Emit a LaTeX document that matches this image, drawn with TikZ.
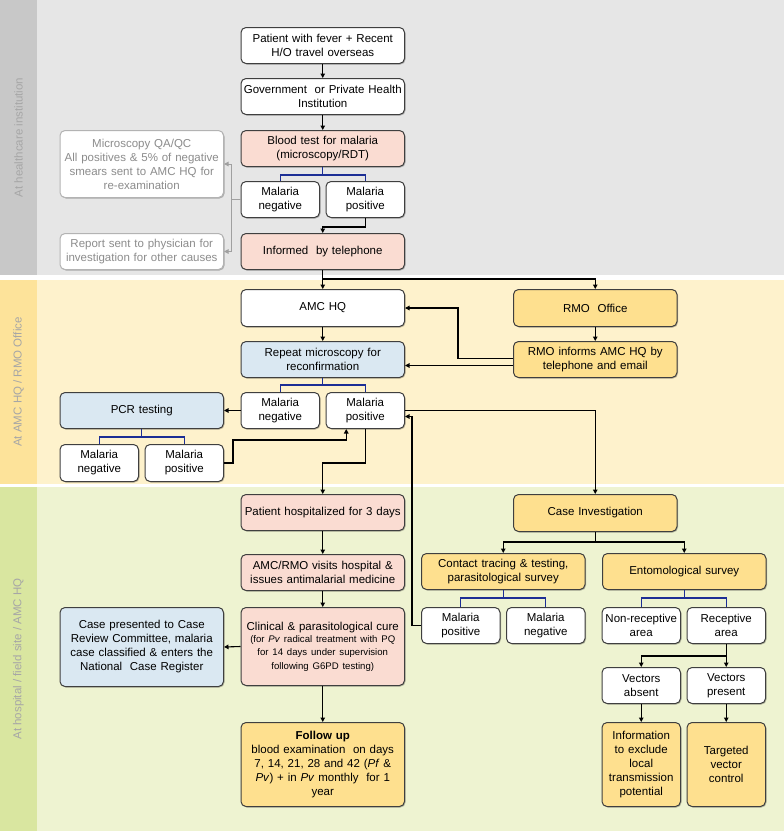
\documentclass[tikz,border=0pt]{standalone}
\usepackage{fontspec}
\setmainfont{Liberation Sans}
\usetikzlibrary{arrows.meta,shadows}
\definecolor{bandgray}{HTML}{E6E6E6}
\definecolor{labgray}{HTML}{C8C8C8}
\definecolor{bandyel}{HTML}{FEF2CC}
\definecolor{labyel}{HTML}{FDE39A}
\definecolor{bandgrn}{HTML}{EEF3D1}
\definecolor{labgrn}{HTML}{D9E6A0}
\definecolor{pinkbox}{HTML}{FADCD2}
\definecolor{bluebox}{HTML}{DAE8F2}
\definecolor{yelbox}{HTML}{FEE08F}
\definecolor{boxline}{HTML}{3F3F3F}
\definecolor{brkblue}{HTML}{1C2E95}
\definecolor{garrow}{HTML}{A0A0A0}
\definecolor{gtext}{HTML}{8C8C8C}
\definecolor{sidetext}{HTML}{A6A6A6}
\begin{document}
\begin{tikzpicture}[x=1pt,y=-1pt,
  box/.style={draw=boxline, line width=1pt, rounded corners=5pt, align=center,
    inner sep=1pt, anchor=north west, fill=white,
    font=\fontsize{11.5}{14}\selectfont,
    drop shadow={shadow xshift=1pt, shadow yshift=-1pt, opacity=0.25, fill=black}},
  gbox/.style={box, draw=garrow!80, text=gtext},
  wide/.style={minimum width=163.5pt, text width=158pt},
  narrow/.style={minimum width=78.5pt, text width=76pt},
  hgt/.style={minimum height=#1pt},
  pink/.style={fill=pinkbox},
  blue/.style={fill=bluebox},
  yel/.style={fill=yelbox},
  arr/.style={draw=black, line width=1.1pt, -{Triangle[length=4.5pt,width=4.5pt]}},
  brk/.style={draw=brkblue, line width=1.1pt},
  garr/.style={draw=garrow, line width=1pt, -{Triangle[length=4.5pt,width=4.5pt]}},
  sidelab/.style={rotate=90, text=sidetext, font=\fontsize{11.5}{14}\selectfont}
]
\useasboundingbox (0,0) rectangle (784,831);
\fill[white] (0,0) rectangle (784,831);
% bands
\fill[bandgray] (0,0) rectangle (784,275);
\fill[labgray] (0,0) rectangle (37,275);
\fill[bandyel] (0,280) rectangle (784,484);
\fill[labyel] (0,280) rectangle (37,484);
\fill[bandgrn] (0,487) rectangle (784,831);
\fill[labgrn] (0,487) rectangle (37,831);
\node[sidelab] (s1) at (18.5,137.5) {At healthcare institution};
\node[sidelab] (s2) at (18.5,382) {At AMC HQ / RMO Office};
\node[sidelab] (s3) at (18.5,659) {At hospital / field site / AMC HQ};

% top band
\node[box,wide,hgt=36] (p1) at (240.5,27) {Patient with fever + Recent\\H/O travel overseas};
\node[box,wide,hgt=36] (p2) at (240.5,78) {Government~ or Private Health\\Institution};
\node[box,wide,hgt=36,pink] (bt) at (240.5,130) {Blood test for malaria\\(microscopy/RDT)};
\node[box,narrow,hgt=36] (n1) at (240.5,181) {Malaria\\negative};
\node[box,narrow,hgt=36] (pos1) at (325.5,181) {Malaria\\positive};
\node[box,wide,hgt=36,pink] (tel) at (240.5,233) {Informed~ by telephone};
\node[gbox,wide,hgt=67] (qa) at (59.5,130) {Microscopy QA/QC\\All positives \& 5\% of negative\\smears sent to AMC HQ for\\re-examination};
\node[gbox,wide,hgt=36] (rep) at (59.5,233) {Report sent to physician for\\investigation for other causes};

% middle band
\node[box,wide,hgt=37] (amc) at (240.5,289) {AMC HQ};
\node[box,wide,hgt=37,yel] (rmo) at (513,289) {RMO~ Office};
\node[box,wide,hgt=36,blue] (rpt) at (240.5,341) {Repeat microscopy for\\reconfirmation};
\node[box,wide,hgt=36,yel] (rinf) at (513,341) {RMO informs AMC HQ by\\telephone and email};
\node[box,narrow,hgt=36] (n2) at (240.5,392) {Malaria\\negative};
\node[box,narrow,hgt=36] (pos2) at (325.5,392) {Malaria\\positive};
\node[box,wide,hgt=36,blue] (pcr) at (59.5,392) {PCR testing};
\node[box,narrow,hgt=37] (pn) at (59.5,444) {Malaria\\negative};
\node[box,narrow,hgt=37] (pp) at (144.5,444) {Malaria\\positive};

% bottom band
\node[box,wide,hgt=36,pink] (hosp) at (240.5,494) {Patient hospitalized for 3 days};
\node[box,wide,hgt=36,pink] (visit) at (240.5,554) {AMC/RMO visits hospital \&\\issues antimalarial medicine};
\node[box,wide,hgt=78,pink] (cure) at (240.5,607) {Clinical \& parasitological cure\\[-1pt]{\fontsize{9.6}{13}\selectfont (for \textit{Pv} radical treatment with PQ\\for 14 days under supervision\\following G6PD testing)}};
\node[box,wide,hgt=79,blue] (case) at (59.5,607) {Case presented to Case\\Review Committee, malaria\\case classified \& enters the\\National~ Case Register};
\node[box,wide,hgt=84,yel] (fu) at (240.5,722) {\textbf{Follow up}\\blood examination~ on days\\7, 14, 21, 28 and 42 (\textit{Pf} \&\\\textit{Pv}) + in \textit{Pv} monthly~ for 1\\year};
\node[box,wide,hgt=37,yel] (ci) at (513,494) {Case Investigation};
\node[box,wide,hgt=36,yel] (ct) at (421,553) {Contact tracing \& testing,\\parasitological survey};
\node[box,wide,hgt=36,yel] (ent) at (602,553) {Entomological survey};
\node[box,narrow,hgt=36] (cp) at (421,607) {Malaria\\positive};
\node[box,narrow,hgt=36] (cn) at (506,607) {Malaria\\negative};
\node[box,narrow,hgt=36] (nr) at (601.5,607) {Non-receptive\\area};
\node[box,narrow,hgt=36] (ra) at (686.5,607) {Receptive\\area};
\node[box,narrow,hgt=36] (va) at (601.5,667) {Vectors\\absent};
\node[box,narrow,hgt=36] (vp) at (686.5,667) {Vectors\\present};
\node[box,narrow,hgt=84,yel] (info) at (601.5,722) {Information\\to exclude\\local\\transmission\\potential};
\node[box,narrow,hgt=84,yel] (tvc) at (686.5,722) {Targeted\\vector\\control};

% connectors top
\draw[arr] (p1) -- (p2);
\draw[arr] (p2) -- (bt);
\draw[brk] (bt.south) -- ++(0,8) -| (n1.north);
\draw[brk] (bt.south) ++(0,8) -| (pos1.north);
\draw[arr] (pos1.south) -- ++(0,9) -| (tel.north);
\coordinate (g1) at ([xshift=-9pt]n1.west);
\draw[draw=garrow, line width=1pt] (n1.west) -- (g1);
\draw[garr] (g1) |- (qa.east);
\draw[garr] (g1) |- (rep.east);
\draw[arr] (tel.south) -- (amc.north);
\draw[arr] (tel.south) ++(0,9) -| (rmo.north);

% connectors middle
\draw[arr] (amc) -- (rpt);
\draw[arr] (rmo) -- (rinf);
\draw[brk] (rpt.south) -- ++(0,7) -| (n2.north);
\draw[brk] (rpt.south) ++(0,7) -| (pos2.north);
\draw[arr] ([yshift=1pt]rinf.west) -- ++(-55,0) |- (amc.east);
\coordinate (q5) at ([yshift=-6pt]rinf.west);
\draw[arr] (q5) -- (q5 -| rpt.east);
\draw[arr] (n2.west) -- (pcr.east);
\draw[brk] (pcr.south) -- ++(0,8) -| (pn.north);
\draw[brk] (pcr.south) ++(0,8) -| (pp.north);
\coordinate (q1) at ([xshift=9pt]pp.east);
\coordinate (k1) at ([xshift=-19pt]pos2.south);
\draw[arr] (pp.east) -- (q1) -- (q1 |- 0,440) -| (k1);
\draw[arr] (pos2.south) -- ++(0,34) -| (hosp.north);
\draw[arr] (pos2.east) -| (ci.north);
\coordinate (q2) at ([xshift=-9pt]cp.west);
\coordinate (k2) at ([yshift=-6pt]pos2.east);
\draw[arr] (cp.west) -- (q2) -- (q2 |- k2) -- (k2);

% connectors bottom
\draw[arr] (hosp) -- (visit);
\draw[arr] (visit) -- (cure);
\draw[arr] (cure) -- (fu);
\draw[arr] (cure.west) -- (case.east);
\draw[arr] (ci.south) -- ++(0,10) -| (ct.north);
\draw[arr] (ci.south) ++(0,10) -| (ent.north);
\draw[brk] (ct.south) -- ++(0,8) -| (cp.north);
\draw[brk] (ct.south) ++(0,8) -| (cn.north);
\draw[brk] (ent.south) -- ++(0,8) -| (nr.north);
\draw[brk] (ent.south) ++(0,8) -| (ra.north);
\draw[arr] (ra.south) -- ++(0,12) -| (va.north);
\draw[arr] (ra.south) -- (vp.north);
\draw[arr] (va) -- (info);
\draw[arr] (vp) -- (tvc);
\end{tikzpicture}
\end{document}
